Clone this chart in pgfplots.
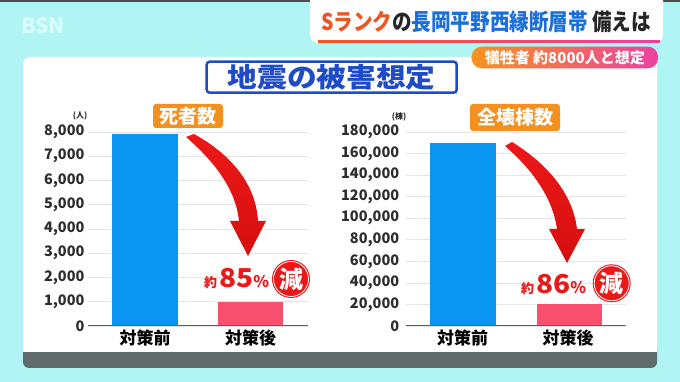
\documentclass[border=0pt]{standalone}
\usepackage{pgfplots}
\pgfplotsset{compat=1.18}
\usepackage{fontspec}
\setmainfont{Noto Sans CJK JP}
\definecolor{bgcyan}{RGB}{176,245,244}
\definecolor{barblue}{RGB}{10,150,240}
\definecolor{barpink}{RGB}{250,80,112}
\definecolor{axisline}{RGB}{90,90,140}
\definecolor{orangebox}{RGB}{243,144,32}
\definecolor{titleblue}{RGB}{30,75,200}
\definecolor{arrowred}{RGB}{236,24,24}
\definecolor{darkred}{RGB}{215,15,15}
\definecolor{stripgray}{RGB}{95,107,107}
\definecolor{sorange}{RGB}{238,85,34}
\definecolor{lblue}{RGB}{26,111,216}
\definecolor{pillorange}{RGB}{247,147,30}
\definecolor{pillpink}{RGB}{238,64,160}
\definecolor{ticktext}{RGB}{45,45,45}
\pgfplotsset{
  mybars/.style={
    scale only axis, width=220pt, height=194pt,
    xmin=0, xmax=220, ymin=0,
    axis line style={draw=none}, tick style={draw=none},
    ymajorgrids, grid style={black!10, line width=0.7pt},
    xtick={57,162.5}, xticklabels={対策前,対策後},
    xticklabel style={font=\fontsize{17}{17}\selectfont\bfseries, text=black},
    yticklabel style={font=\fontsize{14.5}{14.5}\selectfont\bfseries, text=ticktext},
    scaled y ticks=false,
    /pgf/number format/.cd, fixed, precision=0, 1000 sep={,}, assume math mode=true,
  }
}
\begin{document}
\begin{tikzpicture}
\begin{scope}[x=1pt,y=1pt]
\useasboundingbox (0,0) rectangle (680,382);
\fill[bgcyan] (0,0) rectangle (680,382);
\fill[black!70] (0,380) rectangle (680,382);
\node[text=white, opacity=0.55, font=\fontsize{21}{21}\selectfont\bfseries] at (43,356) {BSN};
% panel
\fill[stripgray, rounded corners=6pt] (23,14) rectangle (657,40);
\fill[white, rounded corners=7pt] (23,30) rectangle (657,325);
\fill[white] (23,30) rectangle (657,40);
% top banner
\fill[white, rounded corners=8pt] (310,339) rectangle (663,395);
\shade[left color=sorange, right color=pillpink] (318,339.5) rectangle (660,341.5);
\node[font=\fontsize{23}{23}\selectfont\bfseries, text=black!85, xscale=0.85] at (486,360)
  {{\color{sorange}Sランク}の{\color{lblue}長岡平野西縁断層帯} 備えは};
\shade[left color=pillorange, right color=pillpink, rounded corners=10pt] (471.7,313.7) rectangle (658,335.3);
\node[font=\fontsize{15}{15}\selectfont\bfseries, text=white] at (564.8,324.5) {犠牲者 約8000人と想定};
% title
\draw[titleblue, line width=2.5pt, fill=white, rounded corners=3pt] (206.7,289.3) rectangle (456.7,320.3);
\node[font=\fontsize{27}{27}\selectfont\bfseries, text=titleblue, xscale=1.1] at (331.7,304.5) {地震の被害想定};
% category boxes
\fill[orangebox, rounded corners=3pt] (153,254) rectangle (223,278);
\node[font=\fontsize{19}{19}\selectfont\bfseries, text=white] at (188,266) {死者数};
\fill[orangebox, rounded corners=3pt] (470,251) rectangle (560,278);
\node[font=\fontsize{19}{19}\selectfont\bfseries, text=white] at (515,264.5) {全壊棟数};
% units
\node[font=\fontsize{8}{8}\selectfont\bfseries, text=ticktext] at (80,266) {(人)};
\node[font=\fontsize{8}{8}\selectfont\bfseries, text=ticktext] at (399,265) {(棟)};
\end{scope}

% left chart
\begin{axis}[mybars, at={(88pt,56pt)}, anchor=south west, ymax=8000, ytick={0,1000,...,8000}]
\addplot[ybar, bar width=66pt, bar shift=0pt, fill=barblue, draw=none] coordinates {(57,7900)};
\addplot[ybar, bar width=65pt, bar shift=0pt, fill=barpink, draw=none] coordinates {(162.5,1000)};
\draw[axisline, line width=1.6pt] (axis cs:0,0) -- (axis cs:220,0);
\end{axis}

% right chart
\begin{axis}[mybars, at={(405.7pt,56pt)}, anchor=south west, ymax=180000, ytick={0,20000,...,180000},
  yticklabel style={xshift=-3pt}]
\addplot[ybar, bar width=66pt, bar shift=0pt, fill=barblue, draw=none] coordinates {(57.6,170000)};
\addplot[ybar, bar width=65pt, bar shift=0pt, fill=barpink, draw=none] coordinates {(163.5,20000)};
\draw[axisline, line width=1.6pt] (axis cs:0,0) -- (axis cs:220,0);
\end{axis}

% arrows and reduction labels (image coordinates)
\begin{scope}[x=1pt, yshift=382pt, y=-1pt]
\shade[top color=arrowred, bottom color=darkred]
  (186,137) -- (194,134) .. controls (232,155) and (256,185) .. (258,221) -- (266,221) -- (248,256)
  -- (230,221) -- (239,221) .. controls (236,190) and (215,162) .. (186,137) -- cycle;
\shade[top color=arrowred, bottom color=darkred]
  (505,146) -- (512,142) .. controls (549,165) and (573,195) .. (577,229) -- (585,229) -- (567,263)
  -- (549,229) -- (557,229) .. controls (553,200) and (535,172) .. (505,146) -- cycle;
\node[anchor=base west, inner sep=0pt, text=arrowred, font=\bfseries] at (204,288)
  {{\fontsize{13}{13}\selectfont 約}\hspace{2pt}\scalebox{1.08}[1]{\fontsize{26}{26}\selectfont 85}{\fontsize{16}{16}\selectfont\%}};
\fill[arrowred] (291,279) circle (19);
\draw[white, line width=0.8pt] (291,279) circle (17.5);
\node[text=white, font=\fontsize{24}{24}\selectfont\bfseries] at (291,279) {減};
\node[anchor=base west, inner sep=0pt, text=arrowred, font=\bfseries] at (521,294)
  {{\fontsize{13}{13}\selectfont 約}\hspace{2pt}\scalebox{1.08}[1]{\fontsize{26}{26}\selectfont 86}{\fontsize{16}{16}\selectfont\%}};
\fill[arrowred] (611.7,283.3) circle (19);
\draw[white, line width=0.8pt] (611.7,283.3) circle (17.5);
\node[text=white, font=\fontsize{24}{24}\selectfont\bfseries] at (611.7,283.3) {減};
\end{scope}
\end{tikzpicture}
\end{document}
